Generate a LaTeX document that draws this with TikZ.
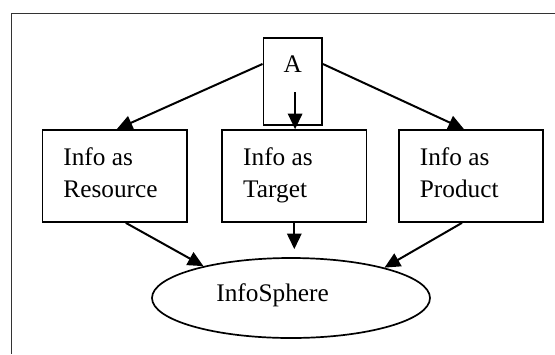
\documentclass[tikz,border=0pt]{standalone}
\usepackage{fontspec}
\setmainfont{Liberation Serif}
\usetikzlibrary{shapes.geometric,arrows.meta,calc}
\begin{document}
\begin{tikzpicture}[x=0.5pt,y=-0.5pt,
  box/.style={draw,line width=0.85pt,rectangle,minimum width=72.25pt,minimum height=46pt,inner sep=0pt},
  abox/.style={draw,line width=0.85pt,rectangle,minimum width=29.35pt,minimum height=43.5pt,inner sep=0pt},
  oval/.style={draw,line width=0.85pt,ellipse,minimum width=139pt,minimum height=40pt,inner sep=0pt},
  txt/.style={font=\fontsize{12.65pt}{16pt}\selectfont,align=left,inner sep=0pt},
  arr/.style={line width=1pt,-{Triangle[length=7.8pt,width=7.2pt]}}]
\useasboundingbox (0,0) rectangle (555,354);
\draw[line width=0.75pt,black!80] (555,13.3) -- (11.7,13.3) -- (11.7,354);
% nodes
\node[abox] (A) at (292.7,81.5) {};
\node[box] (L) at (114.8,176) {};
\node[box] (M) at (294.3,176) {};
\node[box] (R) at (471,176) {};
\node[oval] (E) at (291,298) {};
% texts
\node[txt,anchor=base] (At) at (292.7,72.7) {A};
\node[txt,anchor=base west] (Lt) at (63,197) {Info as\\Resource};
\node[txt,anchor=base west] (Mt) at (242.8,197) {Info as\\Target};
\node[txt,anchor=base west] (Rt) at (419.5,197) {Info as\\Product};
\node[txt,anchor=base west] (Et) at (216,301.7) {InfoSphere};
% connectors
\coordinate (ain) at ($(M.north)+(0.8,-36.7)$);
\coordinate (mtip) at ($(M.south)+(0,26.3)$);
\draw[arr] ($(A.west)+(0,-17.5)$) -- ($(L.north)+(2,0)$);
\draw[arr] ($(A.east)+(0,-17.5)$) -- ($(R.north)+(-7,0)$);
\draw[arr] (ain) -- (ain |- M.north);
\draw[arr] ($(L.south)+(11,0)$) -- (E.160);
\draw[arr] (M.south) -- (mtip);
\draw[arr] ($(R.south)+(-9,0)$) -- (E.18);
\end{tikzpicture}
\end{document}
